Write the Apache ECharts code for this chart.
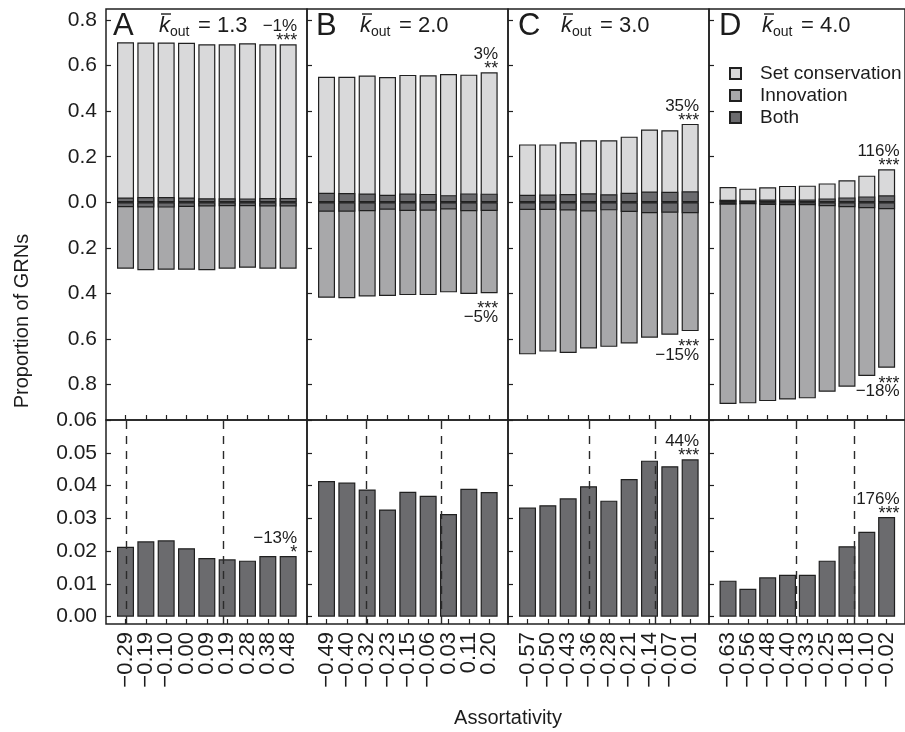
<!DOCTYPE html>
<html>
<head>
<meta charset="utf-8">
<script src="https://cdn.jsdelivr.net/npm/echarts@6/dist/echarts.min.js"></script>
<style>
  html, body { margin: 0; padding: 0; background: #ffffff; }
  #chart { width: 905px; height: 732px; }
</style>
</head>
<body>
<div id="chart"></div>
<script>
// Panel identifiers and mean out-degree of each network ensemble
const panelNames = ['A', 'B', 'C', 'D'];
const kOutValues = ['1.3', '2.0', '3.0', '4.0'];

// Assortativity bins (x tick labels) for each panel
const assortA = ['\u22120.29', '\u22120.19', '\u22120.10', '0.00', '0.09', '0.19', '0.28', '0.38', '0.48'];
const assortB = ['\u22120.49', '\u22120.40', '\u22120.32', '\u22120.23', '\u22120.15', '\u22120.06', '0.03', '0.11', '0.20'];
const assortC = ['\u22120.57', '\u22120.50', '\u22120.43', '\u22120.36', '\u22120.28', '\u22120.21', '\u22120.14', '\u22120.07', '0.01'];
const assortD = ['\u22120.63', '\u22120.56', '\u22120.48', '\u22120.40', '\u22120.33', '\u22120.25', '\u22120.18', '\u22120.10', '\u22120.02'];

// Proportion of GRNs capable of set conservation (drawn upward, includes "both")
const setA = [0.702, 0.701, 0.701, 0.700, 0.693, 0.693, 0.698, 0.693, 0.693];
const setB = [0.551, 0.551, 0.556, 0.550, 0.559, 0.557, 0.563, 0.560, 0.570];
const setC = [0.254, 0.254, 0.263, 0.272, 0.272, 0.288, 0.319, 0.316, 0.344];
const setD = [0.067, 0.060, 0.066, 0.072, 0.073, 0.083, 0.097, 0.117, 0.145];

// Proportion of GRNs capable of innovation (drawn downward, includes "both")
const innovA = [0.291, 0.298, 0.296, 0.296, 0.298, 0.291, 0.287, 0.291, 0.291];
const innovB = [0.419, 0.421, 0.413, 0.411, 0.407, 0.407, 0.395, 0.402, 0.399];
const innovC = [0.667, 0.655, 0.661, 0.641, 0.634, 0.619, 0.594, 0.581, 0.565];
const innovD = [0.885, 0.882, 0.872, 0.865, 0.860, 0.831, 0.809, 0.762, 0.726];

// Proportion of GRNs capable of both
const bothA = [0.0213, 0.0230, 0.0233, 0.0209, 0.0179, 0.0175, 0.0171, 0.0185, 0.0185];
const bothB = [0.0414, 0.0409, 0.0388, 0.0327, 0.0381, 0.0369, 0.0313, 0.0390, 0.0380];
const bothC = [0.0333, 0.0340, 0.0361, 0.0398, 0.0354, 0.0420, 0.0476, 0.0459, 0.0480];
const bothD = [0.0110, 0.0085, 0.0120, 0.0128, 0.0128, 0.0171, 0.0215, 0.0259, 0.0304];

// Change between first and last bin, with significance stars
const setNotes = [['\u22121%', '***'], ['3%', '**'], ['35%', '***'], ['116%', '***']];
const innovNotes = [null, ['\u22125%', '***'], ['\u221215%', '***'], ['\u221218%', '***']];
const bothNotes = [['\u221213%', '*'], null, ['44%', '***'], ['176%', '***']];

// Reference assortativity positions (in bin units) shown as dashed lines
const refLinePos = [[0.02, 4.79], [1.94, 5.64], [3.04, 6.28], [3.45, 6.38]];

// Tick values for the y axes
const topTicks = [-0.8, -0.6, -0.4, -0.2, 0, 0.2, 0.4, 0.6, 0.8];
const bottomTicks = [0, 0.01, 0.02, 0.03, 0.04, 0.05, 0.06];

const assortLabels = [assortA, assortB, assortC, assortD];
const setVals = [setA, setB, setC, setD];
const innovVals = [innovA, innovB, innovC, innovD];
const bothVals = [bothA, bothB, bothC, bothD];

const FONT = '"Liberation Sans", Arial, Helvetica, sans-serif';
const INK = '#1c1c1c';
const COL_SET = '#d9d9da';
const COL_INNOV = '#a8a8aa';
const COL_BOTH = '#6b6b6e';
const BORDER = '#202020';

const PANEL_W = 201;
const FIRST_LEFT = 106;
const TOP_Y = 9, SPLIT_Y = 420, BOTTOM_Y = 624;
const X_MIN = -0.96, X_MAX = 8.927;
const binIdx = [0, 1, 2, 3, 4, 5, 6, 7, 8];
// Label slots: blank entries at both axis ends keep the end bins' labels visible
const labelSlots = [X_MIN].concat(binIdx, [X_MAX]);

// Percent change with significance stars, right-aligned to the last bar
function noteLabel(note, pos, dx) {
  const [pct, stars] = note;
  const above = pos === 'top';
  return {
    show: true,
    position: pos,
    distance: above ? -4 : 13,
    align: 'right',
    offset: [dx, 0],
    formatter: above ? `{p|${pct}}\n{s|${stars}}` : `{s|${stars}}\n{p|${pct}}`,
    rich: {
      p: { fontSize: 17, lineHeight: above ? 16 : 10, fontFamily: FONT, color: INK, align: 'right' },
      s: { fontSize: 18, lineHeight: above ? 14 : 6, fontFamily: FONT, color: INK, align: 'right' }
    }
  };
}

function barData(values, fn, note, pos, dx) {
  return values.map((v, i) => {
    const item = { value: [i, fn(v, i)] };
    if (note && i === values.length - 1) item.label = noteLabel(note, pos, dx);
    return item;
  });
}

const grids = [], xAxes = [], yAxes = [], series = [], graphics = [];

panelNames.forEach((name, p) => {
  const left = FIRST_LEFT + p * PANEL_W;
  const gTop = 2 * p, gBot = 2 * p + 1;
  const set = setVals[p], innov = innovVals[p], both = bothVals[p];
  const noteDx = p === 3 ? 13 : 9;

  const gridStyle = { show: true, borderColor: BORDER, borderWidth: 1.5, backgroundColor: 'transparent' };
  grids.push(Object.assign({ left: left, top: TOP_Y, width: PANEL_W, height: SPLIT_Y - TOP_Y }, gridStyle));
  grids.push(Object.assign({ left: left, top: SPLIT_Y, width: PANEL_W, height: BOTTOM_Y - SPLIT_Y }, gridStyle));

  const tickStyle = { show: true, inside: true, length: 5, lineStyle: { color: BORDER, width: 1.2 } };
  const noLine = { show: false, onZero: false };

  xAxes.push({
    gridIndex: gTop, type: 'value', min: X_MIN, max: X_MAX, position: 'bottom',
    axisLine: noLine, splitLine: { show: false },
    axisTick: Object.assign({ customValues: binIdx }, tickStyle),
    axisLabel: { show: false }
  });
  xAxes.push({
    gridIndex: gBot, type: 'value', min: X_MIN, max: X_MAX, position: 'bottom',
    axisLine: noLine, splitLine: { show: false },
    axisTick: Object.assign({ customValues: binIdx }, tickStyle),
    axisLabel: {
      show: true, customValues: labelSlots, rotate: 90, margin: 8,
      showMinLabel: true, showMaxLabel: true, hideOverlap: false,
      fontSize: 22, lineHeight: 15, fontFamily: FONT, color: INK,
      formatter: (v) => {
        const k = Math.round(v);
        return Math.abs(v - k) < 1e-6 ? assortLabels[p][k] : '';
      }
    }
  });

  yAxes.push({
    gridIndex: gTop, type: 'value', min: -0.955, max: 0.848,
    axisLine: noLine, splitLine: { show: false },
    axisTick: Object.assign({ customValues: topTicks }, tickStyle),
    axisLabel: {
      show: p === 0, customValues: topTicks, margin: 9,
      fontSize: 21, fontFamily: FONT, color: INK,
      formatter: (v) => Math.abs(v).toFixed(1)
    }
  });
  yAxes.push({
    gridIndex: gBot, type: 'value', min: -0.00223, max: 0.06,
    axisLine: noLine, splitLine: { show: false },
    axisTick: Object.assign({ customValues: bottomTicks }, tickStyle),
    axisLabel: {
      show: p === 0, customValues: bottomTicks, margin: 9,
      fontSize: 21, fontFamily: FONT, color: INK,
      formatter: (v) => v.toFixed(2)
    }
  });

  // Top row: full set-conservation bar upward, full innovation bar downward,
  // and the "both" share overlaid on each side of zero.
  const common = { type: 'bar', barWidth: 17, barGap: '-100%', xAxisIndex: gTop, yAxisIndex: gTop };
  const style = (c) => ({ color: c, borderColor: BORDER, borderWidth: 1.2 });

  series.push(Object.assign({}, common, {
    name: 'Set conservation', itemStyle: style(COL_SET),
    data: barData(set, (v) => v, setNotes[p], 'top', noteDx)
  }));
  series.push(Object.assign({}, common, {
    name: 'Innovation', itemStyle: style(COL_INNOV),
    data: barData(innov, (v) => -v, innovNotes[p], 'bottom', noteDx)
  }));
  series.push(Object.assign({}, common, {
    name: 'Both', itemStyle: style(COL_BOTH),
    data: barData(both, (v) => v)
  }));
  series.push(Object.assign({}, common, {
    name: 'Both', itemStyle: style(COL_BOTH),
    data: barData(both, (v) => -v)
  }));

  // Bottom row: "both" share at finer scale, with reference assortativity lines
  series.push({
    type: 'bar', name: 'Both', barWidth: 17, xAxisIndex: gBot, yAxisIndex: gBot,
    itemStyle: style(COL_BOTH),
    data: barData(both, (v) => v, bothNotes[p], 'top', noteDx),
    markLine: {
      silent: true, symbol: 'none', animation: false,
      label: { show: false },
      lineStyle: { color: '#2a2a2a', type: [8, 7], width: 1.4 },
      data: refLinePos[p].map((x) => ({ xAxis: x }))
    }
  });

  // Panel header: letter and mean out-degree, k with an overbar and "out" subscript
  const letterDx = [7, 9, 10, 10][p];
  graphics.push({
    type: 'group', x: left, y: 0, silent: true,
    children: [
      { type: 'text', x: letterDx, y: 26.5, style: { text: name, font: '31px ' + FONT, fill: INK, align: 'left', verticalAlign: 'middle' } },
      { type: 'text', x: 53, y: 25.5, style: { text: 'k', font: 'italic 22px ' + FONT, fill: INK, align: 'left', verticalAlign: 'middle' } },
      { type: 'line', shape: { x1: 55, y1: 14, x2: 65, y2: 14 }, style: { stroke: INK, lineWidth: 1.4 } },
      { type: 'text', x: 64, y: 32.5, style: { text: 'out', font: '14px ' + FONT, fill: INK, align: 'left', verticalAlign: 'middle' } },
      { type: 'text', x: 92, y: 25.5, style: { text: '= ' + kOutValues[p], font: '22px ' + FONT, fill: INK, align: 'left', verticalAlign: 'middle' } }
    ]
  });
});

// Axis titles
graphics.push({
  type: 'text', x: 22, y: 321, rotation: Math.PI / 2, silent: true,
  style: { text: 'Proportion of GRNs', font: '20px ' + FONT, fill: INK, align: 'center', verticalAlign: 'middle' }
});
graphics.push({
  type: 'text', x: 508, y: 718, silent: true,
  style: { text: 'Assortativity', font: '20px ' + FONT, fill: INK, align: 'center', verticalAlign: 'middle' }
});

const chart = echarts.init(document.getElementById('chart'), null, { renderer: 'canvas' });
chart.setOption({
  animation: false,
  backgroundColor: '#ffffff',
  grid: grids,
  xAxis: xAxes,
  yAxis: yAxes,
  legend: {
    data: ['Set conservation', 'Innovation', 'Both'],
    orient: 'vertical', left: 724, top: 59,
    icon: 'rect', itemWidth: 11, itemHeight: 11, itemGap: 3,
    selectedMode: false,
    textStyle: { fontSize: 19, lineHeight: 19, fontFamily: FONT, color: INK, padding: [0, 0, 0, 14] }
  },
  graphic: graphics,
  series: series
});
</script>
</body>
</html>
